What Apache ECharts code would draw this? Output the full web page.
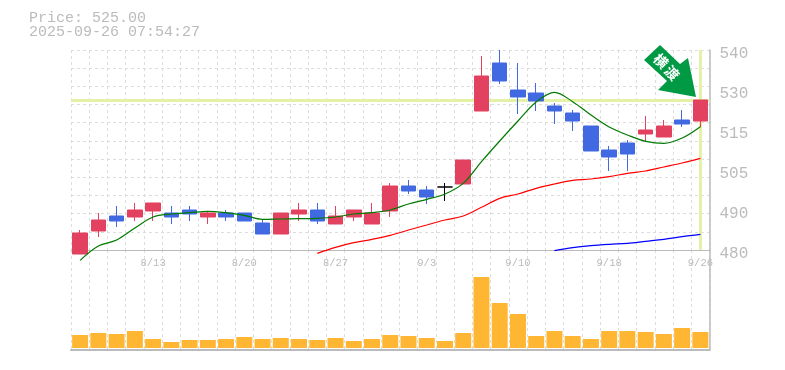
<!DOCTYPE html>
<html><head><meta charset="utf-8">
<style>html,body{margin:0;padding:0;background:#fff}#c{width:785px;height:370px}</style>
<script src="https://cdn.jsdelivr.net/npm/echarts@6/dist/echarts.min.js"></script>
</head><body><div id="c"></div>
<script>
const dates=['8/6','8/7','8/8','8/12','8/13','8/14','8/15','8/18','8/19','8/20','8/21','8/22','8/25','8/26','8/27','8/28','8/29','9/1','9/2','9/3','9/4','9/5','9/8','9/9','9/10','9/11','9/12','9/16','9/17','9/18','9/19','9/22','9/24','9/25','9/26'];
// [open, close, low, high]
const ohlc=[
[478.8,485.1,478.8,486],[485.7,489,483.9,491.1],[490.2,488.7,486.9,493.2],[489.9,492,488.7,494.1],[491.7,494.1,488.7,494.1],
[491.1,489.9,487.8,493.2],[492,490.8,488.7,493.2],[489.9,491.1,487.8,491.7],[491.1,489.9,488.7,492],[491.1,488.7,488.7,491.1],
[488.1,484.8,484.8,489],[484.8,491.1,484.8,491.1],[490.8,492,488.7,494.1],[492,488.7,487.8,494.1],[487.8,490.2,487.8,493.2],
[489.9,492,488.7,492],[487.8,491.1,487.8,494.1],[491.7,499.2,489.9,500.1],[499.2,497.7,496.8,501],[498,495.9,493.8,499.2],
[498.9,498.9,494.7,500.1],[499.8,507,499.8,507],[521.7,532.2,521.7,538.2],[536.1,530.7,529.8,540],[528,525.9,520.8,536.1],
[527.1,524.7,521.7,530.1],[523.2,521.7,517.8,524.1],[521.1,518.7,515.7,522],[517.2,509.7,509.7,517.2],[510,507.9,503.7,511.2],
[512.1,508.8,503.7,513],[514.8,516,512.7,520.2],[513.9,517.2,513.9,519],[519,517.8,516.9,522],[518.7,525,516.9,525]];
const maShort=[476.9,481.2,483,486.6,489.9,490.8,491.2,491.6,491.2,490.4,489.2,489.3,489.4,489.5,489.9,490.8,491.2,492,493.8,495.2,496.8,500,506.5,512.7,518.7,524.4,527.3,524.5,520.5,516.9,514.5,512.6,512,513.6,517];
const maMid=[...Array(13).fill(null),479,480.8,482.2,483.2,484.4,486,487.5,489,490.2,492.8,495.5,496.8,498.5,499.8,500.9,501.3,502,503,503.7,504.9,506.1,507.5];
const maLong=[...Array(26).fill(null),479.8,480.7,481.3,481.7,482,482.6,483.2,484,484.7];
const volumes=[13,15,14,17,9,6,8,8,9,11,9,10,9,8,10,7,9,13,12,10,7,15,71,45,34,12,17,12,9,17,17,16,14,20,16];
const priceTicks={480:'480',492:'490',504:'505',516:'515',528:'530',540:'540'};
const lastPrice=525;
const title=['Price: 525.00','2025-09-26 07:54:27'];

const gray='#bbbbbb', mono='"Liberation Mono",monospace';
const lineSeries=(name,data,color,z)=>({name,type:'line',data,xAxisIndex:0,yAxisIndex:0,symbol:'none',clip:false,smooth:0.35,
  lineStyle:{color,width:1.2},z,silent:true,animation:false});
const chart=echarts.init(document.getElementById('c'),null,{renderer:'canvas'});
chart.setOption({
 animation:false,backgroundColor:'#fff',
 grid:[{left:71,top:50,width:638.5,height:200,containLabel:false},{left:71,top:250,width:638.5,height:100}],
 xAxis:[
  {type:'category',gridIndex:0,data:dates,boundaryGap:true,axisTick:{show:false},
   axisLine:{onZero:false,lineStyle:{color:gray,width:1}},
   axisLabel:{interval:(i)=>(i+1)%5===0,color:gray,fontFamily:mono,fontSize:10.5,margin:8},
   splitLine:{show:true,interval:0,lineStyle:{color:'#dddddd',type:[3,3],width:1}}},
  {type:'category',gridIndex:1,data:dates,boundaryGap:true,axisTick:{show:false},axisLabel:{show:false},
   axisLine:{onZero:false,lineStyle:{color:gray,width:2}},
   splitLine:{show:true,interval:0,lineStyle:{color:'#dddddd',type:[3,3],width:1}}}
 ],
 yAxis:[
  {type:'value',gridIndex:0,min:480,max:540,interval:12,position:'right',axisTick:{show:false},
   axisLine:{show:true,onZero:false,lineStyle:{color:gray,width:1.5}},splitLine:{show:false},
   axisLabel:{color:gray,fontFamily:mono,fontSize:16,margin:10,verticalAlign:'top',lineHeight:0,padding:[4,0,0,0],
     formatter:v=>priceTicks[Math.round(v)]||''}},
  {type:'value',gridIndex:0,min:0,max:11,interval:1,position:'left',axisTick:{show:false},axisLabel:{show:false},
   axisLine:{show:false},splitLine:{show:true,lineStyle:{color:'#dddddd',type:[3,3],width:1}}},
  {type:'value',gridIndex:1,min:-2,max:98,position:'right',axisTick:{show:false},axisLabel:{show:false},
   axisLine:{show:true,onZero:false,lineStyle:{color:gray,width:1.5}},splitLine:{show:false}}
 ],
 series:[
  {name:'guide',type:'line',data:[],xAxisIndex:0,yAxisIndex:0,symbol:'none',z:1,silent:true,
   markLine:{silent:true,symbol:'none',label:{show:false},animation:false,z:1,
    lineStyle:{color:'#e4f2a8',width:3,type:'solid'},
    data:[{yAxis:lastPrice},{xAxis:dates[dates.length-1]}]}},
  {name:'candles',type:'candlestick',data:ohlc,xAxisIndex:0,yAxisIndex:0,barWidth:15,clip:false,z:3,silent:true,
   itemStyle:{color:'#e34160',color0:'#4169e1',borderColor:'#e34160',borderColor0:'#4169e1',borderColorDoji:'#000',borderWidth:1}},
  lineSeries('short',maShort,'#007a00',4),
  lineSeries('mid',maMid,'#ff0000',4),
  lineSeries('long',maLong,'#0000ff',4),
  {name:'volume',type:'bar',data:volumes,xAxisIndex:1,yAxisIndex:2,barWidth:16,silent:true,itemStyle:{color:'#ffb733'}}
 ],
 graphic:[
  {type:'text',left:29,top:11,style:{text:title[0],fill:gray,font:'15px '+mono}},
  {type:'text',left:29,top:25,style:{text:title[1],fill:gray,font:'15px '+mono}},
  {type:'polygon',z:10,silent:true,shape:{points:[[660,45],[680,64],[688,58],[696,97],[658,90],[667,81],[644,60]]},style:{fill:'#009944'}},
  {type:'text',z:11,silent:true,x:661,y:61,rotation:-Math.PI/4,style:{text:'横',fill:'#fff',font:'bold 14px "Noto Sans CJK JP"',align:'center',verticalAlign:'middle'}},
  {type:'text',z:11,silent:true,x:672,y:73,rotation:-Math.PI/4,style:{text:'渡',fill:'#fff',font:'bold 14px "Noto Sans CJK JP"',align:'center',verticalAlign:'middle'}}
 ]
});
</script></body></html>
